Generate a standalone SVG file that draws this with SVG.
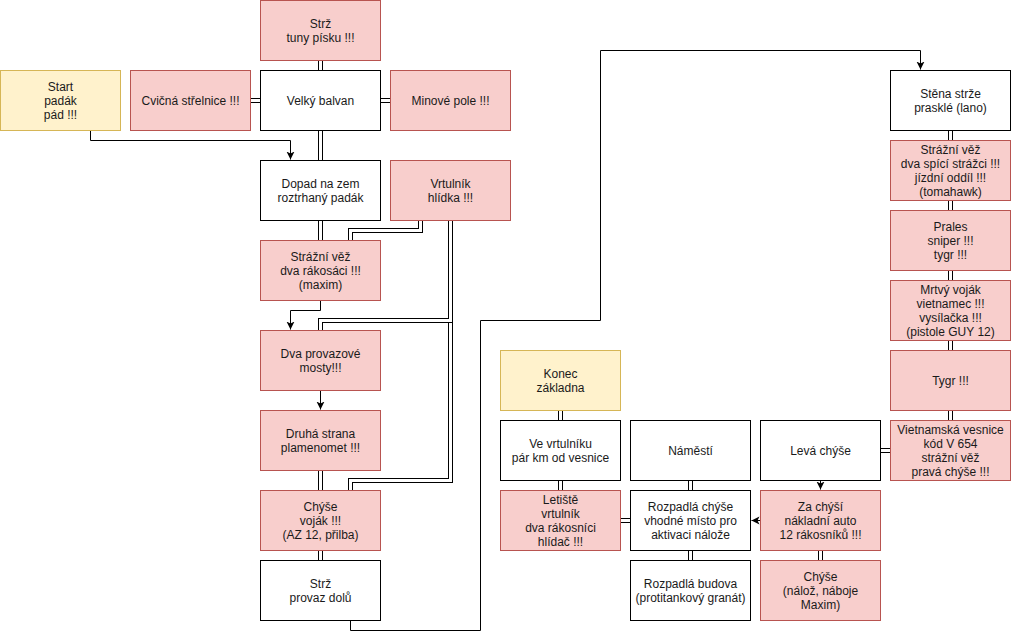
<svg xmlns="http://www.w3.org/2000/svg" xmlns:xlink="http://www.w3.org/1999/xlink" width="1011" height="639" viewBox="0 0 1011 639">
<style>
.n rect{stroke-width:1}
.w rect{fill:#ffffff;stroke:#000000}
.r rect{fill:#f8cecc;stroke:#b85450}
.y rect{fill:#fff2cc;stroke:#d6b656}
text{font-family:"Liberation Sans",Arial,Helvetica,sans-serif;font-size:12px;fill:#1a1a1a;text-anchor:middle}
.e{fill:none;stroke:#000;stroke-width:1}
.lb{fill:none;stroke:#000;stroke-width:5;stroke-linejoin:miter}
.lw{fill:none;stroke:#fff;stroke-width:3;stroke-linejoin:miter}
</style>
<defs>
<marker id="ar" markerUnits="userSpaceOnUse" markerWidth="10" markerHeight="10" refX="8" refY="4" orient="auto" viewBox="0 0 10 8">
<path d="M0,0 L8,4 L0,8 L2,4 Z" fill="#000"/>
</marker>
<path id="l1" d="M320,60 V70"/>
<path id="l2" d="M250,100 H260"/>
<path id="l3" d="M380,100 H390"/>
<path id="l4" d="M320,130 V160"/>
<path id="l5" d="M320,220 V240"/>
<path id="l6" d="M420,220 V230 H350 V240"/>
<path id="l7" d="M450,220 V480 H350 V490"/>
<path id="l8" d="M450,220 V320 H320 V330"/>
<path id="l9" d="M320,470 V490"/>
<path id="l10" d="M320,550 V560"/>
<path id="l11" d="M560,410 V420"/>
<path id="l12" d="M560,480 V490"/>
<path id="l13" d="M620,520 H630"/>
<path id="l14" d="M690,480 V490"/>
<path id="l15" d="M690,550 V560"/>
<path id="l16" d="M820,550 V560"/>
<path id="l17" d="M880,450 H890"/>
<path id="l18" d="M950,130 V140"/>
<path id="l19" d="M950,200 V210"/>
<path id="l20" d="M950,270 V280"/>
<path id="l21" d="M950,340 V350"/>
<path id="l22" d="M950,410 V420"/>
</defs>
<g transform="translate(0.5 0.5)">
<g id="connectors">
<path class="e" d="M90,130 V140 H290 V159" marker-end="url(#ar)"/>
<path class="e" d="M320,300 V310 H290 V329" marker-end="url(#ar)"/>
<path class="e" d="M320,390 V409" marker-end="url(#ar)"/>
<path class="e" d="M350,620 V630 H480 V320 H600 V50 H920 V69" marker-end="url(#ar)"/>
<path class="e" d="M820,480 V489" marker-end="url(#ar)"/>
<path class="e" d="M760,520 H751" marker-end="url(#ar)"/>
<use xlink:href="#l1" class="lb"/><use xlink:href="#l1" class="lw"/>
<use xlink:href="#l2" class="lb"/><use xlink:href="#l2" class="lw"/>
<use xlink:href="#l3" class="lb"/><use xlink:href="#l3" class="lw"/>
<use xlink:href="#l4" class="lb"/><use xlink:href="#l4" class="lw"/>
<use xlink:href="#l5" class="lb"/><use xlink:href="#l5" class="lw"/>
<use xlink:href="#l6" class="lb"/><use xlink:href="#l6" class="lw"/>
<use xlink:href="#l7" class="lb"/><use xlink:href="#l7" class="lw"/>
<use xlink:href="#l8" class="lb"/><use xlink:href="#l8" class="lw"/>
<use xlink:href="#l9" class="lb"/><use xlink:href="#l9" class="lw"/>
<use xlink:href="#l10" class="lb"/><use xlink:href="#l10" class="lw"/>
<use xlink:href="#l11" class="lb"/><use xlink:href="#l11" class="lw"/>
<use xlink:href="#l12" class="lb"/><use xlink:href="#l12" class="lw"/>
<use xlink:href="#l13" class="lb"/><use xlink:href="#l13" class="lw"/>
<use xlink:href="#l14" class="lb"/><use xlink:href="#l14" class="lw"/>
<use xlink:href="#l15" class="lb"/><use xlink:href="#l15" class="lw"/>
<use xlink:href="#l16" class="lb"/><use xlink:href="#l16" class="lw"/>
<use xlink:href="#l17" class="lb"/><use xlink:href="#l17" class="lw"/>
<use xlink:href="#l18" class="lb"/><use xlink:href="#l18" class="lw"/>
<use xlink:href="#l19" class="lb"/><use xlink:href="#l19" class="lw"/>
<use xlink:href="#l20" class="lb"/><use xlink:href="#l20" class="lw"/>
<use xlink:href="#l21" class="lb"/><use xlink:href="#l21" class="lw"/>
<use xlink:href="#l22" class="lb"/><use xlink:href="#l22" class="lw"/>
</g>
<g id="start" class="n y"><rect x="0" y="70" width="120" height="60"/><text x="60" y="90">Start<tspan x="60" dy="14">padák</tspan><tspan x="60" dy="14">pád !!!</tspan></text></g>
<g id="cvicna" class="n r"><rect x="130" y="70" width="120" height="60"/><text x="190" y="104">Cvičná střelnice !!!</text></g>
<g id="balvan" class="n w"><rect x="260" y="70" width="120" height="60"/><text x="320" y="104">Velký balvan</text></g>
<g id="minove" class="n r"><rect x="390" y="70" width="120" height="60"/><text x="450" y="104">Minové pole !!!</text></g>
<g id="strz1" class="n r"><rect x="260" y="0" width="120" height="60"/><text x="320" y="27">Strž<tspan x="320" dy="14">tuny písku !!!</tspan></text></g>
<g id="dopad" class="n w"><rect x="260" y="160" width="120" height="60"/><text x="320" y="187">Dopad na zem<tspan x="320" dy="14">roztrhaný padák</tspan></text></g>
<g id="vrtulnik" class="n r"><rect x="390" y="160" width="120" height="60"/><text x="450" y="187">Vrtulník<tspan x="450" dy="14">hlídka !!!</tspan></text></g>
<g id="vez1" class="n r"><rect x="260" y="240" width="120" height="60"/><text x="320" y="260">Strážní věž<tspan x="320" dy="14">dva rákosáci !!!</tspan><tspan x="320" dy="14">(maxim)</tspan></text></g>
<g id="mosty" class="n r"><rect x="260" y="330" width="120" height="60"/><text x="320" y="357">Dva provazové<tspan x="320" dy="14">mosty!!!</tspan></text></g>
<g id="druha" class="n r"><rect x="260" y="410" width="120" height="60"/><text x="320" y="437">Druhá strana<tspan x="320" dy="14">plamenomet !!!</tspan></text></g>
<g id="chyse1" class="n r"><rect x="260" y="490" width="120" height="60"/><text x="320" y="510">Chýše<tspan x="320" dy="14">voják !!!</tspan><tspan x="320" dy="14">(AZ 12, přilba)</tspan></text></g>
<g id="strz2" class="n w"><rect x="260" y="560" width="120" height="60"/><text x="320" y="587">Strž<tspan x="320" dy="14">provaz dolů</tspan></text></g>
<g id="konec" class="n y"><rect x="500" y="350" width="120" height="60"/><text x="560" y="377">Konec<tspan x="560" dy="14">základna</tspan></text></g>
<g id="vevrtulniku" class="n w"><rect x="500" y="420" width="120" height="60"/><text x="560" y="447">Ve vrtulníku<tspan x="560" dy="14">pár km od vesnice</tspan></text></g>
<g id="letiste" class="n r"><rect x="500" y="490" width="120" height="60"/><text x="560" y="503">Letiště<tspan x="560" dy="14">vrtulník</tspan><tspan x="560" dy="14">dva rákosníci</tspan><tspan x="560" dy="14">hlídač !!!</tspan></text></g>
<g id="namesti" class="n w"><rect x="630" y="420" width="120" height="60"/><text x="690" y="454">Náměstí</text></g>
<g id="rozpadlachyse" class="n w"><rect x="630" y="490" width="120" height="60"/><text x="690" y="510">Rozpadlá chýše<tspan x="690" dy="14">vhodné místo pro</tspan><tspan x="690" dy="14">aktivaci nálože</tspan></text></g>
<g id="rozpadlabudova" class="n w"><rect x="630" y="560" width="120" height="60"/><text x="690" y="587">Rozpadlá budova<tspan x="690" dy="14">(protitankový granát)</tspan></text></g>
<g id="levachyse" class="n w"><rect x="760" y="420" width="120" height="60"/><text x="820" y="454">Levá chýše</text></g>
<g id="zachysi" class="n r"><rect x="760" y="490" width="120" height="60"/><text x="820" y="510">Za chýší<tspan x="820" dy="14">nákladní auto</tspan><tspan x="820" dy="14">12 rákosníků !!!</tspan></text></g>
<g id="chyse2" class="n r"><rect x="760" y="560" width="120" height="60"/><text x="820" y="580">Chýše<tspan x="820" dy="14">(nálož, náboje</tspan><tspan x="820" dy="14">Maxim)</tspan></text></g>
<g id="stena" class="n w"><rect x="890" y="70" width="120" height="60"/><text x="950" y="97">Stěna strže<tspan x="950" dy="14">prasklé (lano)</tspan></text></g>
<g id="vez2" class="n r"><rect x="890" y="140" width="120" height="60"/><text x="950" y="153">Strážní věž<tspan x="950" dy="14">dva spící strážci !!!</tspan><tspan x="950" dy="14">jízdní oddíl !!!</tspan><tspan x="950" dy="14">(tomahawk)</tspan></text></g>
<g id="prales" class="n r"><rect x="890" y="210" width="120" height="60"/><text x="950" y="230">Prales<tspan x="950" dy="14">sniper !!!</tspan><tspan x="950" dy="14">tygr !!!</tspan></text></g>
<g id="mrtvy" class="n r"><rect x="890" y="280" width="120" height="60"/><text x="950" y="293">Mrtvý voják<tspan x="950" dy="14">vietnamec !!!</tspan><tspan x="950" dy="14">vysílačka !!!</tspan><tspan x="950" dy="14">(pistole GUY 12)</tspan></text></g>
<g id="tygr" class="n r"><rect x="890" y="350" width="120" height="60"/><text x="950" y="384">Tygr !!!</text></g>
<g id="vesnice" class="n r"><rect x="890" y="420" width="120" height="60"/><text x="950" y="433">Vietnamská vesnice<tspan x="950" dy="14">kód V 654</tspan><tspan x="950" dy="14">strážní věž</tspan><tspan x="950" dy="14">pravá chýše !!!</tspan></text></g>
</g>
</svg>
